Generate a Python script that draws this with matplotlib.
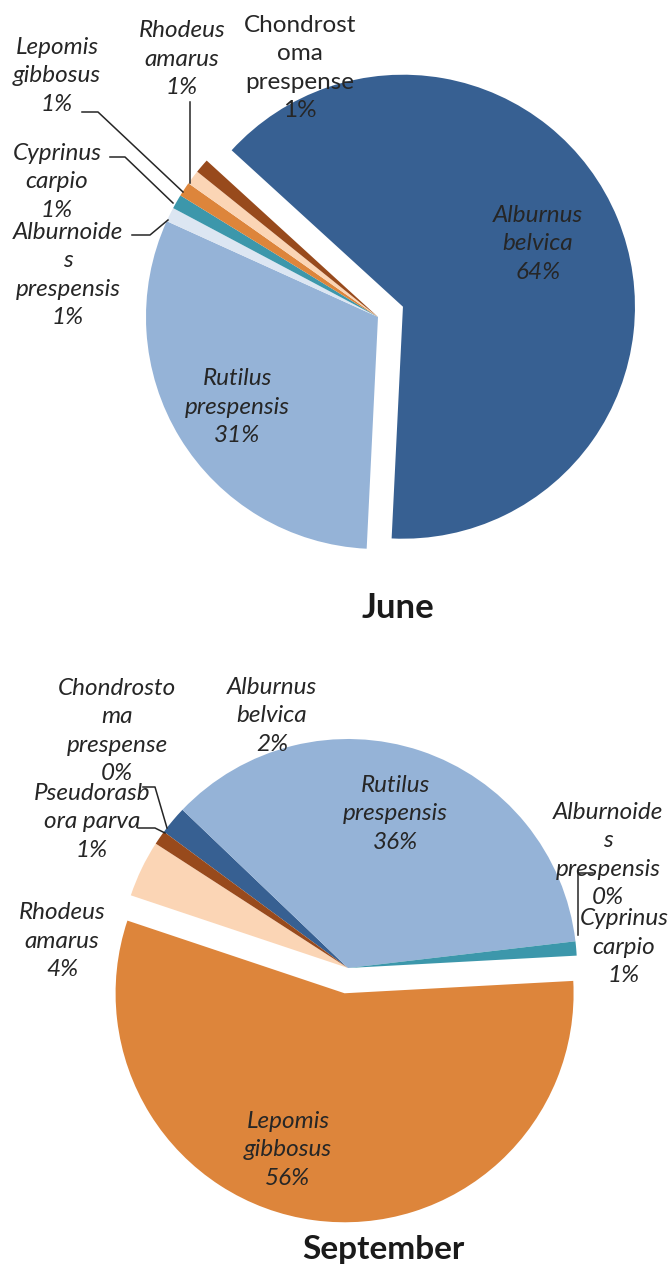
import matplotlib
matplotlib.use('Agg')
import matplotlib.pyplot as plt

W, H = 670, 1265

# June catch composition (% of individuals)
june_labels = ['Alburnus\nbelvica', 'Rutilus\nprespensis', 'Alburnoide\ns\nprespensis',
               'Cyprinus\ncarpio', 'Lepomis\ngibbosus', 'Rhodeus\namarus',
               'Chondrost\noma\nprespense']
june_pct = [64, 31, 1, 1, 1, 1, 1]
june_colors = ['#376092', '#95b3d7', '#dce6f2', '#3c97ab', '#dd853b', '#fbd5b5', '#984a1c']

# September catch composition (% of individuals)
sep_labels = ['Alburnus\nbelvica', 'Rutilus\nprespensis', 'Alburnoide\ns\nprespensis',
              'Cyprinus\ncarpio', 'Lepomis\ngibbosus', 'Rhodeus\namarus',
              'Pseudorasb\nora parva', 'Chondrosto\nma\nprespense']
sep_pct = [2, 36, 0, 1, 56, 4, 1, 0]
sep_colors = ['#376092', '#95b3d7', '#dce6f2', '#3c97ab', '#dd853b', '#fbd5b5', '#984a1c', '#7f7f7f']

# label placement (pixel coords, y down) as Excel put them
june_lab_xy = [(538, 244), (237, 407), (68, 275), (57, 182), (57, 76), (182, 59), (300, 68)]
sep_lab_xy = [(272, 716), (395, 814), (608, 855), (624, 947), (288, 1150), (62, 941),
              (92, 822), (117, 731)]

# leader lines
june_leaders = [[(132, 235), (150, 235), (168, 220)],
                [(110, 157), (125, 157), (173, 203)],
                [(82, 112), (98, 112), (183, 192)],
                [(190, 102), (190, 183)]]
sep_leaders = [[(593, 873), (578, 873), (578, 935)],
               [(138, 828), (155, 828), (165, 833)],
               [(143, 787), (155, 787), (167, 828)]]

fig = plt.figure(figsize=(W / 100, H / 100), dpi=100)
ax = fig.add_axes([0, 0, 1, 1])

# y axis runs downward, so screen-clockwise pies use counterclock=True with negated start
ax.pie(june_pct, colors=june_colors, startangle=-137.6, counterclock=True,
       center=(378, 317), radius=232, explode=[27, 0, 0, 0, 0, 0, 0],
       wedgeprops=dict(linewidth=0))
ax.pie(sep_pct, colors=sep_colors, startangle=-143.5, counterclock=True,
       center=(348, 968), radius=229, explode=[0, 0, 0, 0, 25.5, 0, 0, 0],
       wedgeprops=dict(linewidth=0))

ax.set_xlim(0, W)
ax.set_ylim(H, 0)
ax.set_aspect('equal')
ax.axis('off')

fam = ['Lato', 'DejaVu Sans']
fs = 17.5
ls = 1.42
for i, (lab, p) in enumerate(zip(june_labels, june_pct)):
    style = 'normal' if i == 6 else 'italic'
    x, y = june_lab_xy[i]
    ax.text(x, y, f'{lab}\n{p}%', ha='center', va='center', fontsize=fs,
            style=style, family=fam, color='#262626', linespacing=ls)
for i, (lab, p) in enumerate(zip(sep_labels, sep_pct)):
    x, y = sep_lab_xy[i]
    ax.text(x, y, f'{lab}\n{p}%', ha='center', va='center', fontsize=fs,
            style='italic', family=fam, color='#262626', linespacing=ls)

for pts in june_leaders + sep_leaders:
    xs = [p[0] for p in pts]
    ys = [p[1] for p in pts]
    ax.plot(xs, ys, color='#262626', lw=1.1)

ax.text(398, 608, 'June', ha='center', va='center', fontsize=25, fontweight='bold',
        family=fam, color='#1a1a1a')
ax.text(383, 1250, 'September', ha='center', va='center', fontsize=24, fontweight='bold',
        family=fam, color='#1a1a1a')

fig.savefig('out.png', dpi=100)
